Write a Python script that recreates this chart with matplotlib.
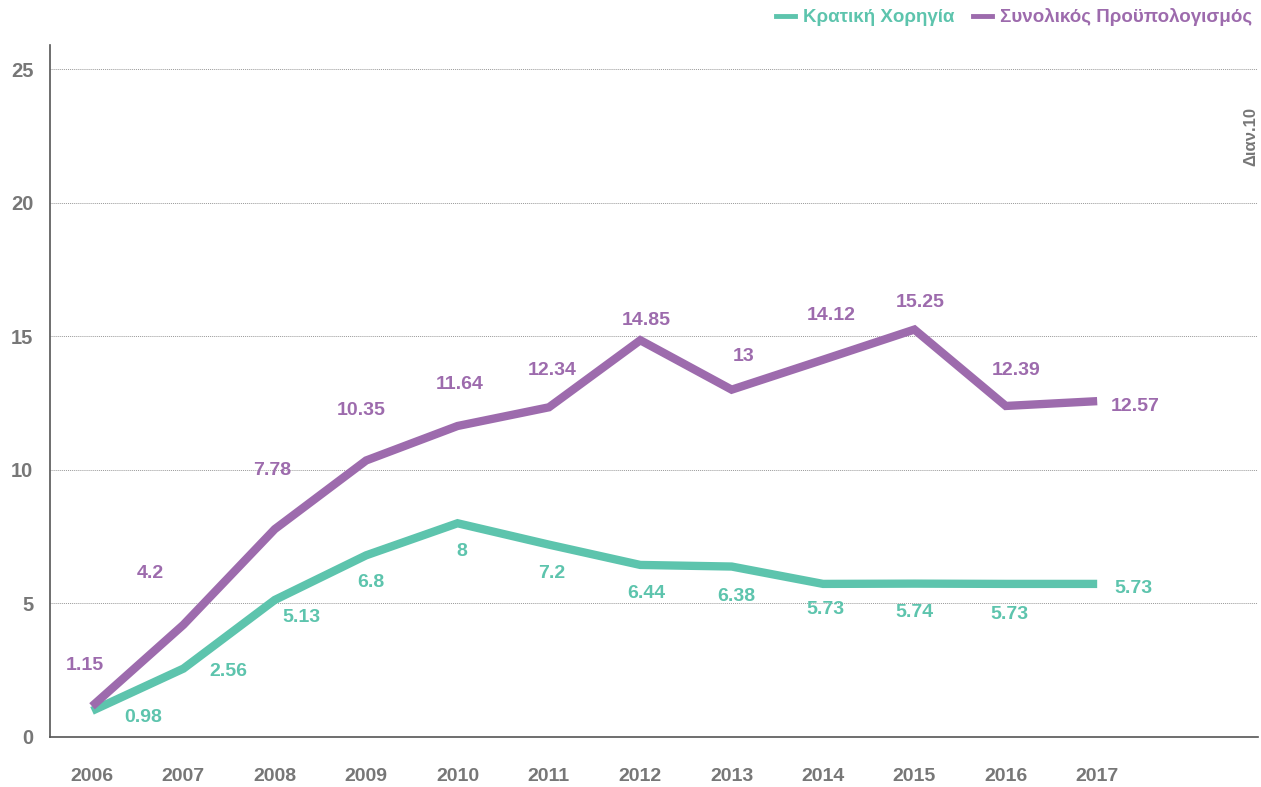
import matplotlib.pyplot as plt
from matplotlib.lines import Line2D

plt.rcParams['font.family'] = ['Liberation Sans', 'DejaVu Sans']

YEARS = [2006, 2007, 2008, 2009, 2010, 2011, 2012, 2013, 2014, 2015, 2016, 2017]
STATE_GRANT = [0.98, 2.56, 5.13, 6.8, 8, 7.2, 6.44, 6.38, 5.73, 5.74, 5.73, 5.73]
TOTAL_BUDGET = [1.15, 4.2, 7.78, 10.35, 11.64, 12.34, 14.85, 13, 14.12, 15.25, 12.39, 12.57]
STATE_LABEL = "Κρατική Χορηγία"
TOTAL_LABEL = "Συνολικός Προϋπολογισμός"
Y_TICKS = [0, 5, 10, 15, 20, 25]
SIDE_NOTE = "Διαν.10"

GREEN = "#5dc4ad"
PURPLE = "#9d6bad"
GRAY = "#777777"

# label offsets in pixels (dx, dy) relative to each point
TOTAL_OFFSETS = [(-7, 41), (-33, 51), (-3, 59), (-5, 50), (2, 42), (3, 37),
                 (6, 20), (12, 33), (8, 44), (6, 27), (10, 35), (38, -5)]
STATE_OFFSETS = [(51, -7), (45, -3), (27, -18), (5, -27), (4, -28), (3, -29),
                 (6, -29), (5, -30), (2, -26), (0, -29), (4, -31), (36, -5)]


def main():
    fig = plt.figure(figsize=(12.61, 7.87), dpi=100)
    ax = fig.add_axes([50 / 1261, 50 / 787, 1208 / 1261, 692 / 787])

    ax.plot(YEARS, STATE_GRANT, color=GREEN, linewidth=6,
            solid_capstyle="butt", solid_joinstyle="miter")
    ax.plot(YEARS, TOTAL_BUDGET, color=PURPLE, linewidth=6,
            solid_capstyle="butt", solid_joinstyle="miter")

    for x, y, (dx, dy) in zip(YEARS, TOTAL_BUDGET, TOTAL_OFFSETS):
        ax.annotate(f"{y:g}", xy=(x, y), xytext=(dx, dy),
                    textcoords="offset pixels", ha="center", va="center",
                    fontsize=14, fontweight="bold", color=PURPLE)
    for x, y, (dx, dy) in zip(YEARS, STATE_GRANT, STATE_OFFSETS):
        ax.annotate(f"{y:g}", xy=(x, y), xytext=(dx, dy),
                    textcoords="offset pixels", ha="center", va="center",
                    fontsize=14, fontweight="bold", color=GREEN)

    ax.set_xlim(2005.54, 2018.76)
    ax.set_ylim(0, 25.9)
    ax.set_xticks(YEARS)
    ax.set_xticklabels([str(y) for y in YEARS], fontsize=14,
                       fontweight="bold", color=GRAY)
    ax.set_yticks(Y_TICKS)
    ax.set_yticklabels([str(t) for t in Y_TICKS], fontsize=14.5,
                       fontweight="bold", color=GRAY)
    ax.tick_params(axis="x", length=0, pad=22)
    ax.tick_params(axis="y", length=0, pad=12)

    for t in Y_TICKS[1:]:
        ax.axhline(t, color="#999999", linewidth=0.7, linestyle=(0, (1, 1)),
                   zorder=0)

    for side in ["top", "right"]:
        ax.spines[side].set_visible(False)
    ax.spines["left"].set_color("#555555")
    ax.spines["bottom"].set_color("#555555")
    ax.spines["left"].set_linewidth(1.2)
    ax.spines["bottom"].set_linewidth(1.2)

    fig.text(1251 / 1261, 1 - 136 / 787, SIDE_NOTE, rotation=90,
             ha="center", va="center", fontsize=12, fontweight="bold",
             color=GRAY)

    handles = [Line2D([], [], color=GREEN, linewidth=3.5),
               Line2D([], [], color=PURPLE, linewidth=3.5)]
    leg = fig.legend(handles, [STATE_LABEL, TOTAL_LABEL], ncol=2,
                     loc="upper right", bbox_to_anchor=(1.0, 1.0),
                     frameon=False, fontsize=13.5, handlelength=1.0,
                     handletextpad=0.45, columnspacing=1.0,
                     labelcolor="linecolor", borderaxespad=0.05)
    for txt in leg.get_texts():
        txt.set_fontweight("bold")

    fig.savefig("out.png", dpi=100)
    plt.close(fig)


if __name__ == "__main__":
    main()
